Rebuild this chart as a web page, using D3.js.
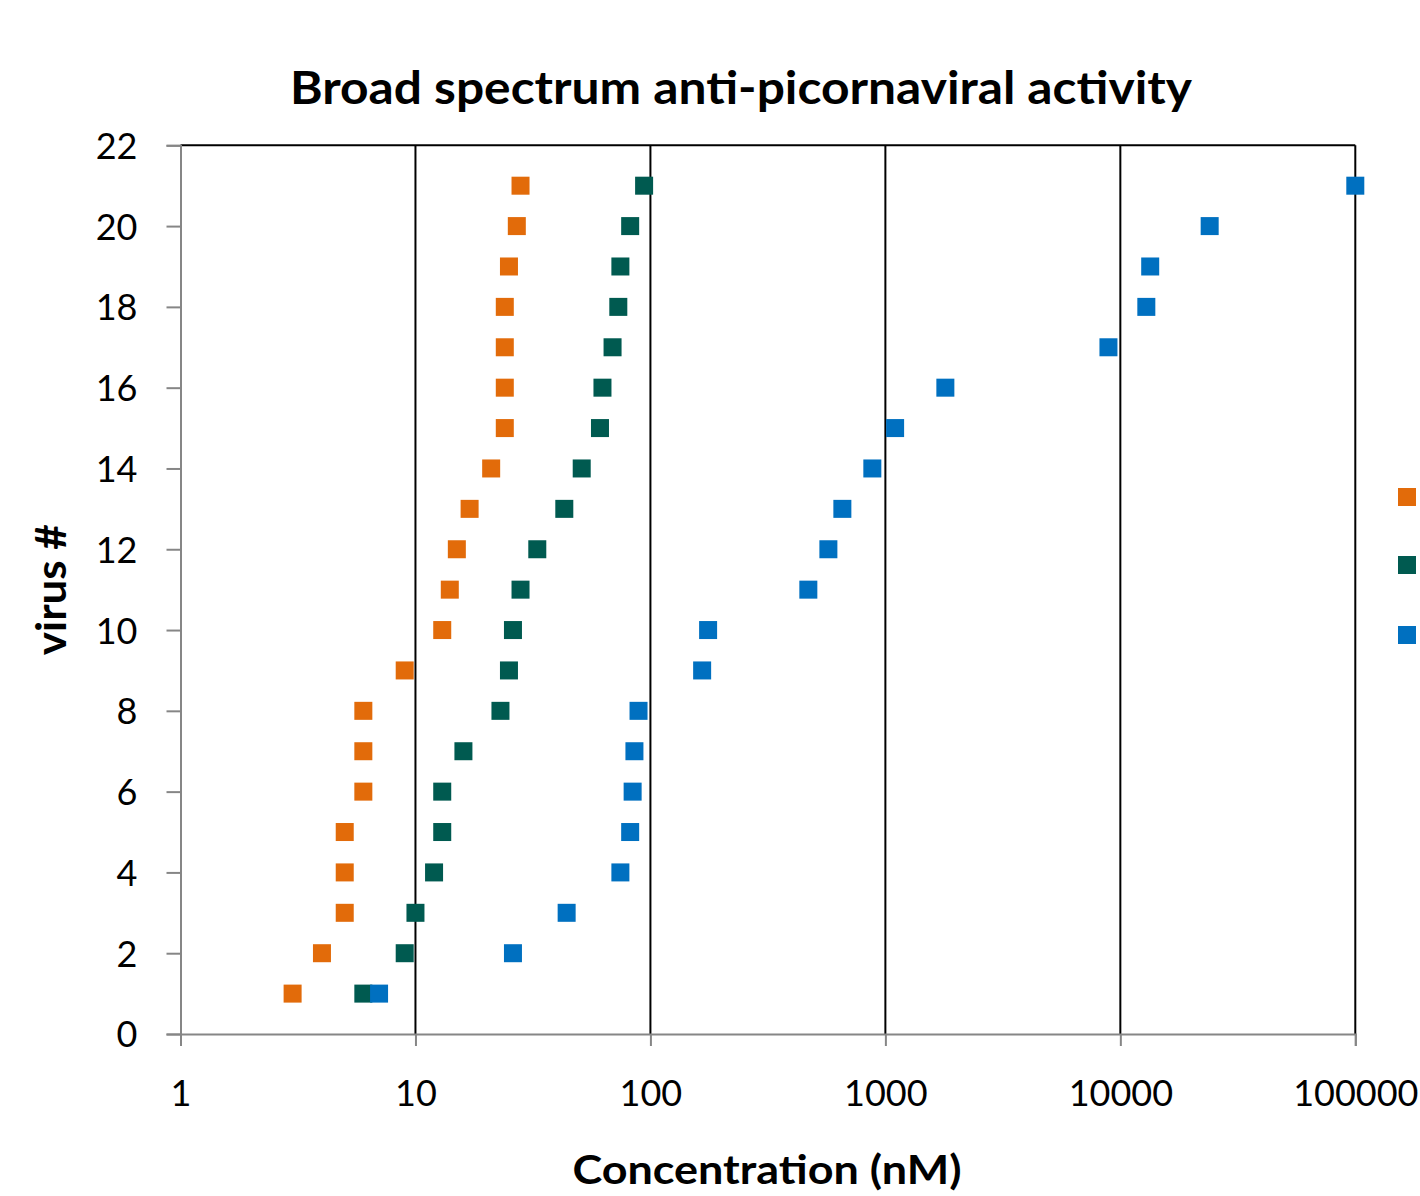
<!DOCTYPE html>
<html>
<head>
<meta charset="utf-8">
<script src="https://cdn.jsdelivr.net/npm/d3@7"></script>
<style>
    body { margin: 0; background: #fff; }
    svg { display: block; }
    text { font-family: Lato, 'Open Sans', sans-serif; fill: #000; }
</style>
</head>
<body>
<div id="chart"></div>
<script>
const width = 1420;
const height = 1196;

// virus # on the y axis, concentrations (nM)
const virusIds = d3.range(1, 22);
const orangeSeries = [3, 4, 5, 5, 5, 6, 6, 6, 9, 13, 14, 15, 17, 21, 24, 24, 24, 24, 25, 27, 28];
const tealSeries = [6, 9, 10, 12, 13, 13, 16, 23, 25, 26, 28, 33, 43, 51, 61, 62.5, 69, 73, 74.5, 82, 94];
const blueSeries = [7, 26, 44, 74.5, 82, 84, 85.5, 89, 166, 176, 470, 572, 656, 880, 1100, 1800, 8900, 12900, 13400, 24000, 100000];

const xTicks = [1, 10, 100, 1000, 10000, 100000];
const yTicks = d3.range(0, 23, 2);

const series = [
    { name: 'orange', color: '#e26b0a', values: orangeSeries },
    { name: 'teal', color: '#005a50', values: tealSeries },
    { name: 'blue', color: '#0070c0', values: blueSeries },
];

const margin = { left: 180.5, right: 64.7, top: 145.3, bottom: 162 };
const markerSize = 18;

const x = d3.scaleLog()
    .domain([1, 100000])
    .range([margin.left, width - margin.right]);
const y = d3.scaleLinear()
    .domain([0, 22])
    .range([height - margin.bottom, margin.top]);

const svg = d3.select('#chart')
    .append('svg')
    .attr('width', width)
    .attr('height', height);

// vertical gridlines (black)
svg.append('g')
    .selectAll('line')
    .data(xTicks.slice(1))
    .join('line')
    .attr('x1', d => x(d))
    .attr('x2', d => x(d))
    .attr('y1', y(22))
    .attr('y2', y(0))
    .attr('stroke', '#000')
    .attr('stroke-width', 2);

// top border line
svg.append('line')
    .attr('x1', x(1))
    .attr('x2', x(100000))
    .attr('y1', y(22))
    .attr('y2', y(22))
    .attr('stroke', '#000')
    .attr('stroke-width', 2);

// y axis
const yAxis = svg.append('g')
    .attr('transform', `translate(${x(1)},0)`)
    .call(d3.axisLeft(y).tickValues(yTicks).tickSize(14).tickPadding(29).tickFormat(d3.format('d')));
yAxis.select('.domain').attr('stroke', '#868686').attr('stroke-width', 2);
yAxis.selectAll('.tick line').attr('stroke', '#868686').attr('stroke-width', 2);
yAxis.selectAll('.tick text')
    .attr('font-size', 36)
    .attr('font-family', 'Lato, sans-serif')
    .attr('fill', '#000')
    .attr('dy', '0.36em');

// x axis
const xAxis = svg.append('g')
    .attr('transform', `translate(0,${y(0)})`)
    .call(d3.axisBottom(x).tickValues(xTicks).tickSize(12).tickPadding(34).tickFormat(d3.format('d')));
xAxis.select('.domain').attr('stroke', '#868686').attr('stroke-width', 2);
xAxis.selectAll('.tick line').attr('stroke', '#868686').attr('stroke-width', 2);
xAxis.selectAll('.tick text')
    .attr('font-size', 36)
    .attr('font-family', 'Lato, sans-serif')
    .attr('fill', '#000');

// markers
series.forEach(s => {
    svg.append('g')
        .selectAll('rect')
        .data(s.values.map((v, i) => ({ v, id: virusIds[i] })))
        .join('rect')
        .attr('x', d => x(d.v) - markerSize / 2)
        .attr('y', d => y(d.id) - markerSize / 2)
        .attr('width', markerSize)
        .attr('height', markerSize)
        .attr('fill', s.color);
});

// legend markers (labels fall outside the picture)
const legendY = [497, 565, 635];
svg.append('g')
    .selectAll('rect')
    .data(series)
    .join('rect')
    .attr('x', 1407 - markerSize / 2)
    .attr('y', (d, i) => legendY[i] - markerSize / 2)
    .attr('width', markerSize)
    .attr('height', markerSize)
    .attr('fill', d => d.color);

// title
svg.append('text')
    .attr('x', 741)
    .attr('y', 104)
    .attr('text-anchor', 'middle')
    .attr('font-size', 46)
    .attr('font-weight', 'bold')
    .attr('textLength', 902)
    .attr('lengthAdjust', 'spacingAndGlyphs')
    .text('Broad spectrum anti-picornaviral activity');

// axis titles
svg.append('text')
    .attr('x', 767)
    .attr('y', 1184)
    .attr('text-anchor', 'middle')
    .attr('font-size', 41)
    .attr('font-weight', 'bold')
    .attr('textLength', 389)
    .attr('lengthAdjust', 'spacingAndGlyphs')
    .text('Concentration (nM)');

svg.append('text')
    .attr('transform', `translate(66,${(y(0) + y(22)) / 2}) rotate(-90)`)
    .attr('text-anchor', 'middle')
    .attr('font-size', 42)
    .attr('font-weight', 'bold')
    .attr('textLength', 131)
    .attr('lengthAdjust', 'spacingAndGlyphs')
    .text('virus #');
</script>
</body>
</html>
